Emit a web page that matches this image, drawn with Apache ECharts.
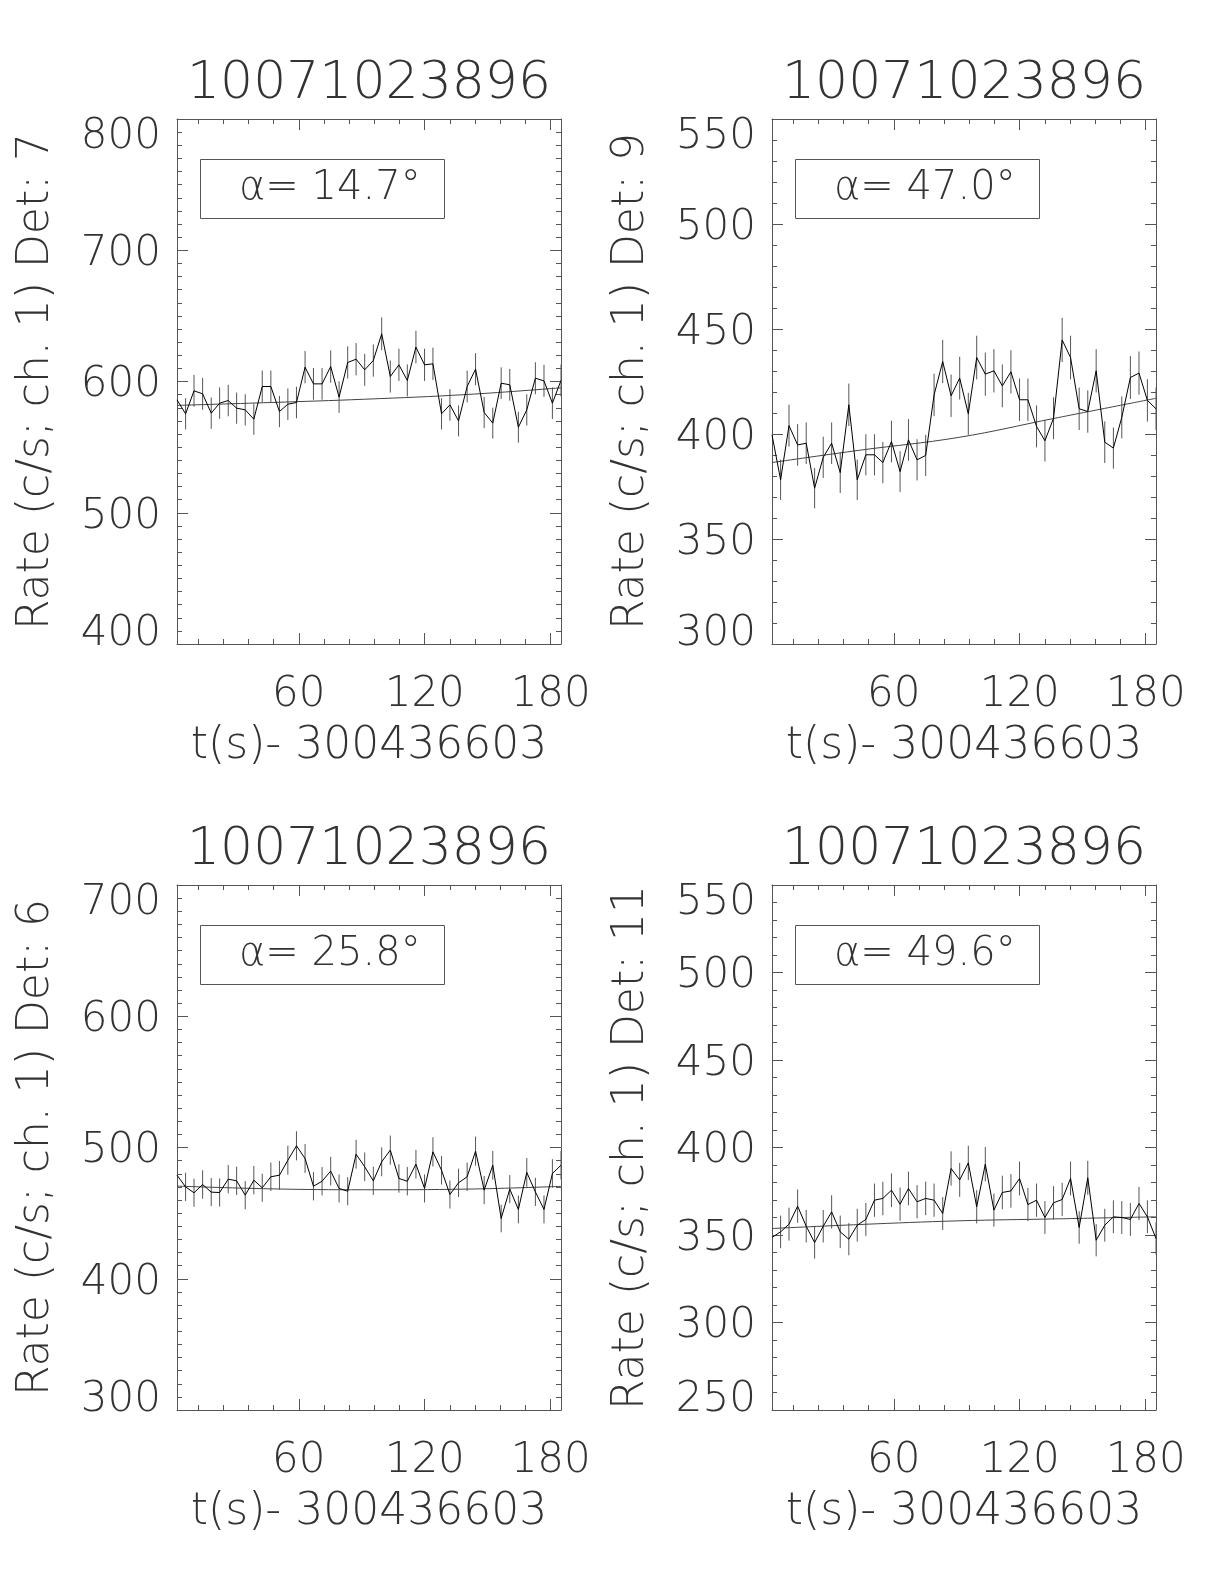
<!DOCTYPE html>
<html><head><meta charset="utf-8">
<script src="https://cdn.jsdelivr.net/npm/echarts@6/dist/echarts.min.js"></script>
<style>html,body{margin:0;padding:0;background:#fff}#c{width:1224px;height:1584px}</style>
</head><body><div id="c"></div>
<script>
// ---------------- data ----------------
const OBS_ID = '10071023896';
const X_TITLE = 't(s)- 300436603';
const TIMES = [2.0, 6.1, 10.1, 14.2, 18.3, 22.3, 26.4, 30.4, 34.5, 38.6, 42.6, 46.7, 50.8, 54.8, 58.9, 63.0,
  67.0, 71.1, 75.2, 79.2, 83.3, 87.3, 91.4, 95.5, 99.5, 103.6, 107.7, 111.7, 115.8, 119.9, 123.9, 128.0,
  132.0, 136.1, 140.2, 144.2, 148.3, 152.4, 156.4, 160.5, 164.6, 168.6, 172.7, 176.8, 180.8, 184.9];
const X_MAJOR_TICKS = [60, 120, 180];
const X_MINOR_TICKS = [12, 24, 36, 48, 72, 84, 96, 108, 132, 144, 156, 168];

const DETECTORS = [7, 9, 6, 11];
const ALPHAS = ['14.7', '47.0', '25.8', '49.6'];

const RATE_DET7 = [586.0, 575.4, 592.9, 590.6, 575.9, 583.5, 585.5, 579.7, 578.4, 571.3, 596.2, 596.2, 577.1, 582.7, 584.0, 610.9,
  598.2, 598.2, 611.4, 588.1, 614.5, 617.0, 608.9, 616.0, 636.3, 603.8, 612.7, 600.8, 626.2, 612.7, 613.5, 575.4,
  582.2, 570.0, 596.2, 609.4, 576.4, 568.3, 598.7, 597.5, 565.2, 578.4, 602.5, 600.5, 583.5, 600.8];
const ERR_DET7 = [12.0, 11.9, 12.1, 12.1, 11.9, 12.0, 12.0, 11.9, 11.9, 11.9, 12.1, 12.1, 11.9, 12.0, 12.0, 12.3,
  12.1, 12.1, 12.3, 12.0, 12.3, 12.3, 12.2, 12.3, 12.5, 12.2, 12.3, 12.2, 12.4, 12.3, 12.3, 11.9,
  12.0, 11.8, 12.1, 12.2, 11.9, 11.8, 12.1, 12.1, 11.8, 11.9, 12.2, 12.2, 12.0, 12.2];
const FIT_T_DET7 = [2.0, 46.7, 91.4, 140.2, 184.9];
const FIT_DET7 = [581.8, 584.0, 586.5, 590.1, 595.2];

const RATE_DET9 = [399.6, 378.2, 404.0, 394.8, 395.6, 374.2, 388.9, 395.6, 381.6, 413.9, 378.2, 390.1, 390.1, 386.4, 396.4, 382.1,
  397.2, 387.7, 389.8, 418.6, 434.5, 418.2, 426.6, 409.6, 436.4, 428.5, 430.1, 422.9, 429.6, 416.3, 416.3, 403.6,
  396.8, 407.5, 444.8, 436.4, 412.0, 410.7, 430.1, 396.1, 393.3, 407.9, 426.9, 429.0, 416.0, 412.0];
const ERR_DET9 = [9.9, 9.6, 10.0, 9.9, 9.9, 9.6, 9.8, 9.9, 9.7, 10.1, 9.6, 9.8, 9.8, 9.8, 9.9, 9.7,
  9.9, 9.8, 9.8, 10.1, 10.3, 10.1, 10.2, 10.0, 10.4, 10.3, 10.3, 10.2, 10.3, 10.1, 10.1, 10.0,
  9.9, 10.0, 10.5, 10.4, 10.1, 10.1, 10.3, 9.9, 9.8, 10.0, 10.2, 10.3, 10.1, 10.1];
const FIT_T_DET9 = [2.0, 44.0, 91.0, 136.7, 184.9];
const FIT_DET9 = [386.4, 392.3, 398.4, 407.5, 417.0];

const RATE_DET6 = [478.9, 470.0, 465.5, 471.8, 466.0, 465.7, 475.9, 474.6, 463.7, 475.1, 469.3, 477.7, 478.9, 490.3, 501.3, 491.6,
  470.5, 474.3, 482.0, 468.8, 466.7, 494.9, 485.3, 474.6, 489.1, 498.0, 476.4, 474.3, 487.3, 468.8, 496.7, 482.7,
  464.2, 473.1, 477.7, 497.2, 467.5, 486.5, 445.9, 468.3, 452.8, 481.0, 466.2, 452.8, 480.2, 486.5];
const ERR_DET6 = [10.9, 10.8, 10.7, 10.8, 10.7, 10.7, 10.8, 10.8, 10.7, 10.8, 10.7, 10.8, 10.9, 11.0, 11.1, 11.0,
  10.8, 10.8, 10.9, 10.7, 10.7, 11.0, 10.9, 10.8, 11.0, 11.1, 10.8, 10.8, 10.9, 10.7, 11.1, 10.9,
  10.7, 10.8, 10.8, 11.1, 10.7, 10.9, 10.5, 10.7, 10.6, 10.9, 10.7, 10.6, 10.9, 10.9];
const FIT_T_DET6 = [2.0, 46.7, 91.4, 140.2, 184.9];
const FIT_DET6 = [470.6, 468.5, 467.8, 468.3, 470.4];

const RATE_DET11 = [348.6, 351.8, 356.2, 366.5, 355.0, 345.7, 355.0, 363.2, 351.8, 347.6, 355.6, 358.9, 369.9, 370.9, 375.6, 367.6,
  376.6, 369.0, 370.9, 369.9, 362.3, 388.0, 381.5, 391.2, 366.1, 390.5, 364.2, 374.3, 375.2, 382.3, 367.4, 369.9,
  360.0, 368.4, 370.3, 382.3, 354.3, 382.7, 347.0, 355.6, 360.4, 360.0, 358.9, 368.0, 360.4, 348.0];
const ERR_DET11 = [9.3, 9.3, 9.4, 9.5, 9.3, 9.2, 9.3, 9.5, 9.3, 9.2, 9.4, 9.4, 9.5, 9.6, 9.6, 9.5,
  9.6, 9.5, 9.6, 9.5, 9.4, 9.8, 9.7, 9.8, 9.5, 9.8, 9.5, 9.6, 9.6, 9.7, 9.5, 9.5,
  9.4, 9.5, 9.5, 9.7, 9.3, 9.7, 9.2, 9.4, 9.4, 9.4, 9.4, 9.5, 9.4, 9.2];
const FIT_T_DET11 = [2.0, 44.0, 91.0, 136.7, 184.9];
const FIT_DET11 = [353.7, 356.0, 358.1, 359.2, 360.4];

// y-axis ranges (min, max, major step, minor step)
const Y_MIN = [400, 300, 300, 250];
const Y_MAX = [800, 550, 700, 550];
const Y_STEP = [100, 50, 100, 50];
const Y_MINOR_STEP = [10, 10, 10, 10];

// ---------------- layout / style ----------------
const FONT = "'DejaVu Sans', sans-serif";
const FW = 200;
const TXT = '#333';
const AX = '#555';
const BOXES = [[177, 119, 384, 525], [772, 119, 384, 525], [177, 885, 384, 525], [772, 885, 384, 525]];
const RATES = [RATE_DET7, RATE_DET9, RATE_DET6, RATE_DET11];
const ERRS = [ERR_DET7, ERR_DET9, ERR_DET6, ERR_DET11];
const FIT_TS = [FIT_T_DET7, FIT_T_DET9, FIT_T_DET6, FIT_T_DET11];
const FITS = [FIT_DET7, FIT_DET9, FIT_DET6, FIT_DET11];

const txt = (size) => ({fontFamily: FONT, fontWeight: FW, fontSize: size, color: TXT});

const option = {animation: false, backgroundColor: '#fff', grid: [], xAxis: [], yAxis: [], series: [], title: []};

BOXES.forEach((box, i) => {
  const [L, T, W, H] = box;
  option.grid.push({left: L, top: T, width: W, height: H, show: false, containLabel: false});
  const xi = option.xAxis.length, yi = option.yAxis.length;
  const xBase = {type: 'value', gridIndex: i, min: TIMES[0], max: TIMES[TIMES.length - 1],
    splitLine: {show: false}, minorSplitLine: {show: false}};
  const majorTick = {show: true, inside: true, length: 11, customValues: X_MAJOR_TICKS, lineStyle: {color: AX, width: 1}};
  const minorTick = {show: true, inside: true, length: 5, customValues: X_MINOR_TICKS, lineStyle: {color: AX, width: 1}};
  const line = {show: true, onZero: false, lineStyle: {color: AX, width: 1}};
  option.xAxis.push(
    Object.assign({}, xBase, {position: 'bottom', axisLine: line, axisTick: majorTick,
      axisLabel: Object.assign({show: true, customValues: X_MAJOR_TICKS, margin: 30}, txt(42)),
      name: X_TITLE, nameLocation: 'middle', nameGap: 81, nameTextStyle: txt(44)}),
    Object.assign({}, xBase, {position: 'bottom', axisLine: {show: false, onZero: false}, axisTick: minorTick, axisLabel: {show: false}}),
    Object.assign({}, xBase, {position: 'top', axisLine: line, axisTick: majorTick, axisLabel: {show: false}}),
    Object.assign({}, xBase, {position: 'top', axisLine: {show: false, onZero: false}, axisTick: minorTick, axisLabel: {show: false}})
  );
  const ymin = Y_MIN[i], ymax = Y_MAX[i];
  const yBase = {type: 'value', gridIndex: i, min: ymin, max: ymax, interval: Y_STEP[i],
    splitLine: {show: false}, minorSplitLine: {show: false}, axisLine: line,
    axisTick: {show: true, inside: true, length: 11, lineStyle: {color: AX, width: 1}},
    minorTick: {show: true, splitNumber: Y_STEP[i] / Y_MINOR_STEP[i], length: 5, lineStyle: {color: AX, width: 1}}};
  const lab = txt(42);
  option.yAxis.push(
    Object.assign({}, yBase, {position: 'left',
      axisLabel: {show: true, margin: 16,
        formatter: (v) => v === ymax ? '{t|' + v + '}' : (v === ymin ? '{b|' + v + '}' : '{m|' + v + '}'),
        rich: {t: Object.assign({padding: [36, 0, 0, 0]}, lab), b: Object.assign({padding: [8, 0, 28, 0]}, lab),
          m: Object.assign({padding: [8, 0, 0, 0]}, lab)}},
      name: 'Rate (c/s; ch. 1) Det: ' + DETECTORS[i], nameLocation: 'middle', nameRotate: 90, nameGap: 118,
      nameTextStyle: txt(44)}),
    Object.assign({}, yBase, {position: 'right', axisLabel: {show: false}})
  );
  const rate = RATES[i], err = ERRS[i];
  option.series.push(
    {type: 'custom', xAxisIndex: xi, yAxisIndex: yi, silent: true, clip: true, z: 1,
      data: TIMES.map((t, k) => [t, rate[k], err[k]]), encode: {x: 0, y: 1},
      renderItem: (params, api) => {
        const t = api.value(0), v = api.value(1), e = api.value(2);
        const a = api.coord([t, v - e]), b = api.coord([t, v + e]);
        return {type: 'line', shape: {x1: a[0], y1: a[1], x2: b[0], y2: b[1]}, style: {stroke: '#555', lineWidth: 1}};
      }},
    {type: 'line', xAxisIndex: xi, yAxisIndex: yi, silent: true, z: 3, symbol: 'none', showSymbol: false,
      data: TIMES.map((t, k) => [t, rate[k]]), lineStyle: {color: '#000', width: 1}},
    {type: 'line', xAxisIndex: xi, yAxisIndex: yi, silent: true, z: 2, symbol: 'none', showSymbol: false, smooth: 0.4,
      data: FIT_TS[i].map((t, k) => [t, FITS[i][k]]), lineStyle: {color: '#444', width: 1}}
  );
  option.title.push(
    {text: OBS_ID, left: L + W / 2, top: T - 65, textAlign: 'center', textVerticalAlign: 'top', padding: 0,
      textStyle: Object.assign({lineHeight: 60}, txt(52))},
    {text: 'α= ' + ALPHAS[i] + '°', left: L + 23, top: T + 40, textAlign: 'left', textVerticalAlign: 'top',
      padding: [8, 24, 8, 39], borderColor: AX, borderWidth: 1,
      textStyle: Object.assign({lineHeight: 44, width: 181}, txt(40))}
  );
});

const chart = echarts.init(document.getElementById('c'), null, {renderer: 'canvas'});
chart.setOption(option);
</script>
</body></html>
